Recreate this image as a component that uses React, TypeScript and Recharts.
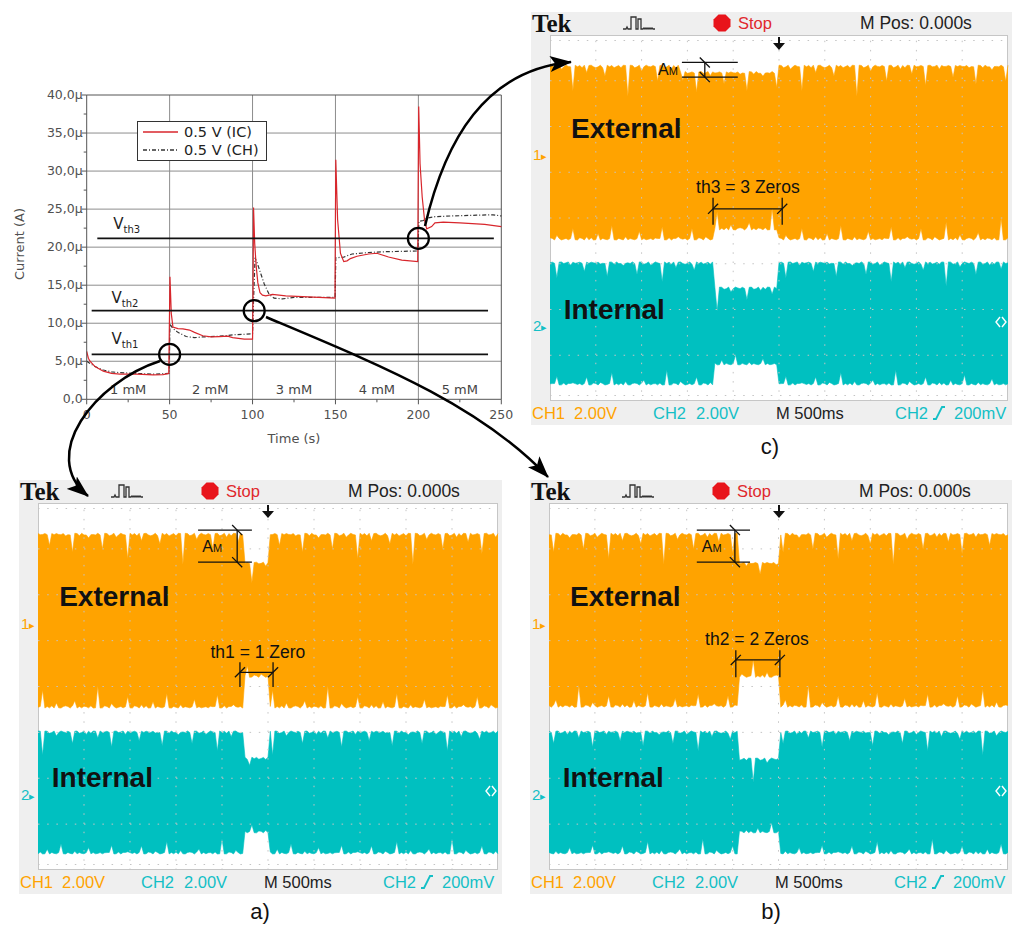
import React from "react";
import {
  LineChart, Line, ComposedChart, Area, XAxis, YAxis, ReferenceLine, ReferenceDot, Legend, Label,
} from "recharts";

const W = 1024;
const H = 945;
const SANS = "'Liberation Sans', Arial, Helvetica, sans-serif";
const PLOT_FONT = "'DejaVu Sans', Verdana, sans-serif";
const ORANGE = "#ffa300";
const CYAN = "#00c0c0";
const CYAN_TEXT = "#14bfc6";
const RED = "#d8262c";

// ---------- current vs time (s, µA) ----------
const icTime = [0, 1, 2, 5, 10, 15, 20, 30, 40, 46, 49.5, 50.2, 51, 52, 55, 58, 62, 65, 70, 75, 80, 85, 88, 95, 100, 100.3, 100.6, 101.3, 102.2, 103.2, 104.5, 106, 108, 112, 120, 130, 140, 149.7, 150.2, 151.3, 153, 155, 157, 159, 163, 170, 175, 182, 190, 199.6, 200.2, 201, 202.3, 203.7, 205, 208, 210, 215, 225, 240, 250];
const icCurrent = [6.3, 5.4, 5.0, 4.3, 3.7, 3.4, 3.3, 3.3, 3.2, 3.25, 3.4, 16.1, 11.3, 9.5, 9.3, 9.25, 9.1, 8.8, 8.35, 8.2, 8.25, 8.3, 8.1, 7.9, 7.9, 14, 25.2, 20.5, 17.5, 15.3, 14, 13.7, 13.6, 13.8, 13.6, 13.5, 13.4, 13.3, 31.5, 23.6, 19.2, 18.1, 18.2, 18.5, 18.8, 19.1, 19.2, 18.7, 18.3, 18.1, 38.5, 31, 26.6, 23.6, 22.4, 22.7, 23.2, 23.3, 23.2, 23.0, 22.7];
const chTime = [0, 5, 10, 15, 20, 30, 40, 49.7, 50.2, 52, 55, 60, 65, 70, 80, 90, 100, 100.6, 101.5, 103, 105, 107, 110, 113, 118, 125, 140, 149.8, 150.2, 155, 160, 170, 180, 190, 199.7, 200.3, 203, 205, 210, 220, 235, 245, 250];
const chCurrent = [5.0, 4.3, 3.85, 3.6, 3.5, 3.4, 3.3, 3.4, 9.9, 9.3, 8.8, 8.25, 8.1, 8.2, 8.3, 8.5, 8.6, 13, 18.6, 17.8, 16.5, 15.2, 13.8, 13.3, 13.2, 13.4, 13.4, 13.4, 18.6, 18.7, 19.1, 19.3, 19.4, 19.45, 19.5, 23.4, 23.5, 23.8, 24.0, 24.1, 24.2, 24.25, 24.1];

const timeTicks = [0, 25, 50, 75, 100, 125, 150, 175, 200, 225, 250];
const currentTicks = [0, 2.5, 5, 7.5, 10, 12.5, 15, 17.5, 20, 22.5, 25, 27.5, 30, 32.5, 35, 37.5, 40];
const gridTime = [50, 100, 150, 200];
const gridCurrent = [5, 10, 15, 20, 25, 30, 35];

const thresholdLevel = [5.9, 11.65, 21.15];
const thresholdStart = [3, 3, 6.4];
const thresholdEnd = [242, 242, 245.5];
const thresholdName = ["th1", "th2", "th3"];
const thresholdLabelTime = [15, 15, 16];
const thresholdLabelCurrent = [7.3, 12.7, 22.4];
const crossingTime = [50, 101, 200];

const concentrationLabel = ["1 mM", "2 mM", "3 mM", "4 mM", "5 mM"];
const concentrationTime = [25, 74.5, 125, 175, 225];
const concentrationCurrent = 1.3;

const legendName = ["0.5 V (IC)", "0.5 V (CH)"];

// ---------- oscilloscope traces (divisions: x 0..10, y 0..8) ----------
const spikeDepth = [
  1, 0, 2, 1, 0, 6, 1, 0, 1, 2, 0, 1, 3, 0, 1, 8, 0, 1, 2, 0,
  1, 1, 4, 0, 2, 1, 0, 1, 7, 0, 1, 2, 1, 0, 3, 1, 0, 2, 1, 9,
  0, 1, 1, 2, 0, 5, 1, 0, 1, 2, 1, 0, 2, 6, 0, 1, 1, 3, 0, 1,
  2, 0, 1, 10, 0, 1, 2, 1, 0, 4, 1, 0, 2, 1, 1, 0, 7, 1, 0, 2,
  1, 0, 3, 1, 2, 0, 1, 5, 0, 1, 2, 1, 0, 8, 1, 0, 1, 2, 0, 3,
];
// deepest spike (div) on each band edge: ext top, ext bottom, int top, int bottom
const spikeMax = [0.65, 0.45, 0.5, 0.3];
const scopeDivX = [1, 2, 3, 4, 5, 6, 7, 8, 9];
const scopeDivY = [1, 2, 3, 4, 5, 6, 7];

// [top, bottom] of each channel band, normal and inside the missing-pulse gap
const gapA = [4.5, 5.0];
const extA = [7.34, 3.53];
const extGapA = [6.71, 4.2];
const intA = [3.03, 0.35];
const intGapA = [2.46, 0.81];

const gapB = [4.12, 5.0];
const extB = [7.34, 3.55];
const extGapB = [6.71, 4.2];
const intB = [3.03, 0.35];
const intGapB = [2.44, 0.81];

const gapC = [3.56, 4.98];
const dipC = [2.85, 4.98];
const extC = [7.34, 3.52];
const extGapC = [7.2, 3.74];
const intC = [3.04, 0.35];
const intGapC = [2.49, 0.79];

function buildRows(gap: number[], dip: number[], ext: number[], extGap: number[], int: number[], intGap: number[], shift: number) {
  const n = spikeDepth.length;
  const rows: any[] = [];
  for (let i = 0; i <= 200; i++) {
    const x = i / 20;
    const inGap = x >= gap[0] && x <= gap[1];
    const inDip = x >= dip[0] && x <= dip[1];
    const d = (o: number, e: number) => {
      const s = spikeDepth[(i + o + shift) % n] / 10;
      return s * s * spikeMax[e] + (spikeDepth[(i + o + shift + 7) % n] % 2) * 0.03;
    };
    const eTop = (inDip ? extGap[0] : ext[0]) - d(0, 0);
    const eBot = (inGap ? extGap[1] : ext[1]) + d(37, 1);
    const iTop = (inGap ? intGap[0] : int[0]) - d(61, 2);
    const iBot = (inGap ? intGap[1] : int[1]) + d(83, 3);
    rows.push({ x, ext: [eBot, eTop], int: [iBot, iTop] });
  }
  return rows;
}

// ---------- main current chart ----------
const PL = 86.7;
const PT = 95;
const PR = 501.3;
const PB = 399.3;

const fmtCurrent = (v: number) => (v === 0 ? "0,0" : v.toFixed(1).replace(".", ",") + "µ");

function CurrentTick(props: any) {
  const { y, payload } = props;
  const major = payload.value % 5 === 0;
  return (
    <g>
      <line x1={PL - (major ? 5 : 3)} x2={PL} y1={y} y2={y} stroke="#555" />
      {major && (
        <text x={PL - 4} y={y + 4} textAnchor="end" fontSize={12.5} fill="#505050" fontFamily={PLOT_FONT}>
          {fmtCurrent(payload.value)}
        </text>
      )}
    </g>
  );
}

function TimeTick(props: any) {
  const { x, payload } = props;
  const major = payload.value % 50 === 0;
  return (
    <g>
      <line x1={x} x2={x} y1={PB} y2={PB + (major ? 5 : 3)} stroke="#555" />
      {major && (
        <text x={x} y={PB + 20} textAnchor="middle" fontSize={12.5} fill="#505050" fontFamily={PLOT_FONT}>
          {payload.value}
        </text>
      )}
    </g>
  );
}

function LegendBox() {
  return (
    <div style={{ width: 130, height: 40, boxSizing: "border-box", border: "1.5px solid #333", background: "#fff", fontFamily: PLOT_FONT, fontSize: 14.5, color: "#222", padding: "1px 0 0 5px" }}>
      {legendName.map((name, i) => (
        <div key={name} style={{ display: "flex", alignItems: "center", height: 18 }}>
          <svg width={36} height={10} style={{ marginRight: 5 }}>
            <line x1={0} x2={35} y1={5} y2={5} stroke={i === 0 ? RED : "#333"} strokeWidth={1.3} strokeDasharray={i === 0 ? undefined : "4 2 1 2"} />
          </svg>
          <span>{name}</span>
        </div>
      ))}
    </div>
  );
}

function CurrentChart() {
  const ic = icTime.map((t, i) => ({ t, i: icCurrent[i] }));
  const ch = chTime.map((t, i) => ({ t, i: chCurrent[i] }));
  return (
    <div style={{ position: "absolute", left: 0, top: 0 }}>
      <LineChart width={W} height={H} margin={{ top: PT, left: PL - 60, right: W - PR, bottom: H - PB - 45 }}>
        <XAxis type="number" dataKey="t" domain={[0, 250]} ticks={timeTicks} interval={0} tick={<TimeTick />} tickLine={false} axisLine={{ stroke: "#555" }} height={45}>
          <Label content={() => <text x={294} y={443} textAnchor="middle" fontSize={13} fill="#505050" fontFamily={PLOT_FONT}>Time (s)</text>} />
        </XAxis>
        <YAxis type="number" domain={[0, 40]} ticks={currentTicks} interval={0} tick={<CurrentTick />} tickLine={false} axisLine={{ stroke: "#555" }} width={60}>
          <Label content={() => <text transform="translate(24 244) rotate(-90)" textAnchor="middle" fontSize={13} fill="#505050" fontFamily={PLOT_FONT}>Current (A)</text>} />
        </YAxis>
        {gridCurrent.map((v) => <ReferenceLine key={"h" + v} y={v} stroke="#8d8d8d" />)}
        {gridTime.map((v) => <ReferenceLine key={"v" + v} x={v} stroke="#8d8d8d" />)}
        <ReferenceLine y={40} stroke="#555" />
        <ReferenceLine x={250} stroke="#555" />
        <Line data={ch} dataKey="i" type="linear" stroke="#333" strokeWidth={1.2} strokeDasharray="4 2 1 2" dot={false} activeDot={false} isAnimationActive={false} />
        <Line data={ic} dataKey="i" type="linear" stroke={RED} strokeWidth={1.2} dot={false} activeDot={false} isAnimationActive={false} />
        {thresholdLevel.map((v, i) => (
          <ReferenceLine key={"th" + i} segment={[{ x: thresholdStart[i], y: v }, { x: thresholdEnd[i], y: v }]} stroke="#111" strokeWidth={1.6} />
        ))}
        {thresholdLevel.map((v, i) => (
          <ReferenceDot key={"thl" + i} x={thresholdLabelTime[i]} y={thresholdLabelCurrent[i]} shape={(p: any) => (
            <text x={p.cx} y={p.cy} fontSize={15} fill="#222" fontFamily={PLOT_FONT}>
              V<tspan fontSize={10} dy={4}>{thresholdName[i]}</tspan>
            </text>
          )} />
        ))}
        {concentrationLabel.map((s, i) => (
          <ReferenceDot key={s} x={concentrationTime[i]} y={concentrationCurrent} shape={(p: any) => (
            <text x={p.cx} y={p.cy + 4.5} textAnchor="middle" fontSize={13} fill="#444" fontFamily={PLOT_FONT}>{s}</text>
          )} />
        ))}
        {crossingTime.map((t, i) => (
          <ReferenceDot key={"c" + t} x={t} y={thresholdLevel[i]} r={10.5} fill="none" stroke="#000" strokeWidth={2.2} />
        ))}
        <Legend layout="vertical" align="center" verticalAlign="middle" content={<LegendBox />} wrapperStyle={{ left: 137, top: 121, width: 130, height: 40 }} />
      </LineChart>
    </div>
  );
}

// ---------- oscilloscope panel ----------
type Annot = {
  amX: number[]; amY: number[]; amV: number; amText: number[];
  thX: number[]; thY: number; thV: number[]; thText: number[]; thLabel: string;
};

function Span({ x, cy, size, color, children, weight, family, anchor }: any) {
  const lh = Math.round(size * 1.25);
  return (
    <div style={{
      position: "absolute", left: anchor === "middle" ? x - 100 : x, width: anchor === "middle" ? 200 : undefined,
      textAlign: anchor === "middle" ? "center" : "left", top: cy - lh / 2, height: lh, lineHeight: lh + "px",
      fontSize: size, color, fontWeight: weight || "normal", fontFamily: family || SANS, whiteSpace: "nowrap",
    }}>{children}</div>
  );
}

function ScopePanel({ sx, st, sr, sb, rows, a, caption, capX, capY }: any) {
  const divH = (sb - st) / 8;
  const levelY = (d: number) => sb - d * divH;
  const hy = st - 12;
  const fy = sb + 12;
  const an: Annot = a;
  const slash = (x: number, y: number, dir: number, k: string) => (
    <ReferenceLine key={k} segment={[{ x: x - 0.11, y: y - 0.11 * dir }, { x: x + 0.11, y: y + 0.11 * dir }]} stroke="#111" strokeWidth={1.3} ifOverflow="visible" />
  );
  return (
    <>
      <div style={{ position: "absolute", left: sx - 19, top: st - 23, width: sr - sx + 23, height: sb - st + 47, background: "#efefef" }} />
      <div style={{ position: "absolute", left: sx, top: st, width: sr - sx, height: sb - st, background: "#fff", boxSizing: "border-box", border: "1px solid #c6c6c6" }} />
      <Span x={sx - 18} cy={hy} size={25} color="#111" weight="bold" family="'Liberation Serif', 'Times New Roman', serif">Tek</Span>
      <svg width={34} height={18} style={{ position: "absolute", left: sx + 73, top: hy - 9 }}>
        <path d="M0 15 L3 15 L4 13 L5 15 L8 15 L8 3 L13 3 L13 15 L15 15 L15 5 L18 5 L18 15 L20 15 L21 14 L22 15 L23 14 L24 15 L25 14 L26 15 L27 14 L28 15 L29 14 L30 15 L32 15" fill="none" stroke="#333" strokeWidth={1.3} />
      </svg>
      <svg width={18} height={18} style={{ position: "absolute", left: sx + 163, top: hy - 9 }}>
        <polygon points="5.5,0.5 12.5,0.5 17.5,5.5 17.5,12.5 12.5,17.5 5.5,17.5 0.5,12.5 0.5,5.5" fill="#e8141b" />
      </svg>
      <Span x={sx + 188} cy={hy} size={16.5} color="#e0282c">Stop</Span>
      <Span x={sx + 310} cy={hy} size={17.5} color="#222">M Pos: 0.000s</Span>
      <Span x={sx - 18} cy={fy} size={16.5} color={ORANGE}>CH1</Span>
      <Span x={sx + 24} cy={fy} size={16.5} color={ORANGE}>2.00V</Span>
      <Span x={sx + 103} cy={fy} size={16.5} color={CYAN_TEXT}>CH2</Span>
      <Span x={sx + 146} cy={fy} size={16.5} color={CYAN_TEXT}>2.00V</Span>
      <Span x={sx + 226} cy={fy} size={16.5} color="#222">M 500ms</Span>
      <Span x={sx + 345} cy={fy} size={16.5} color={CYAN_TEXT}>CH2</Span>
      <svg width={14} height={16} style={{ position: "absolute", left: sx + 382, top: fy - 8 }}>
        <path d="M1 14 L4 14 L10 2 L13 2" fill="none" stroke={CYAN_TEXT} strokeWidth={1.8} />
      </svg>
      <Span x={sx + 404} cy={fy} size={16.5} color={CYAN_TEXT}>200mV</Span>
      <Span x={sx - 17} cy={levelY(5.38)} size={15} color={ORANGE}>1<span style={{ fontSize: 11 }}>▸</span></Span>
      <Span x={sx - 17} cy={levelY(1.65)} size={15} color={CYAN_TEXT}>2<span style={{ fontSize: 11 }}>▸</span></Span>
      <Span x={capX} cy={capY} size={22} color="#111" anchor="middle">{caption}</Span>
      <div style={{ position: "absolute", left: 0, top: 0 }}>
        <ComposedChart width={W} height={H} data={rows} margin={{ left: sx, top: st, right: W - sr, bottom: H - sb }}>
          <XAxis type="number" dataKey="x" domain={[0, 10]} hide />
          <YAxis type="number" domain={[0, 8]} hide />
          <Area dataKey="ext" type="linear" stroke={ORANGE} strokeWidth={0.6} fill={ORANGE} fillOpacity={1} dot={false} activeDot={false} isAnimationActive={false} />
          <Area dataKey="int" type="linear" stroke={CYAN} strokeWidth={0.6} fill={CYAN} fillOpacity={1} dot={false} activeDot={false} isAnimationActive={false} />
          {scopeDivX.map((v) => <ReferenceLine key={"gx" + v} x={v} stroke="#c4c4c4" strokeDasharray="1.5 7.7" />)}
          {scopeDivY.map((v) => <ReferenceLine key={"gy" + v} y={v} stroke="#c4c4c4" strokeDasharray="1.5 7.7" />)}
          <ReferenceLine y={7.88} stroke="#c4c4c4" strokeDasharray="1.5 7.7" />
          <ReferenceLine y={0.12} stroke="#c4c4c4" strokeDasharray="1.5 7.7" />
          <ReferenceDot x={0.46} y={5.75} shape={(p: any) => <text x={p.cx} y={p.cy} fontSize={28} fontWeight="bold" fill="#111" fontFamily={SANS}>External</text>} />
          <ReferenceDot x={0.3} y={1.8} shape={(p: any) => <text x={p.cx} y={p.cy} fontSize={28} fontWeight="bold" fill="#111" fontFamily={SANS}>Internal</text>} />
          <ReferenceLine segment={[{ x: an.amX[0], y: an.amY[0] }, { x: an.amX[1], y: an.amY[0] }]} stroke="#111" strokeWidth={1.3} />
          <ReferenceLine segment={[{ x: an.amX[0], y: an.amY[1] }, { x: an.amX[1], y: an.amY[1] }]} stroke="#111" strokeWidth={1.3} />
          <ReferenceLine segment={[{ x: an.amV, y: an.amY[0] }, { x: an.amV, y: an.amY[1] }]} stroke="#111" strokeWidth={1.3} />
          {slash(an.amV, an.amY[0], -1, "s1")}
          {slash(an.amV, an.amY[1], -1, "s2")}
          <ReferenceDot x={an.amText[0]} y={an.amText[1]} shape={(p: any) => (
            <text x={p.cx} y={p.cy} fontSize={16} fill="#111" fontFamily={SANS}>A<tspan fontSize={11}>M</tspan></text>
          )} />
          <ReferenceLine segment={[{ x: an.thX[0], y: an.thY }, { x: an.thX[1], y: an.thY }]} stroke="#111" strokeWidth={1.3} />
          <ReferenceLine segment={[{ x: an.thX[0], y: an.thV[0] }, { x: an.thX[0], y: an.thV[1] }]} stroke="#111" strokeWidth={1.3} />
          <ReferenceLine segment={[{ x: an.thX[1], y: an.thV[0] }, { x: an.thX[1], y: an.thV[1] }]} stroke="#111" strokeWidth={1.3} />
          {slash(an.thX[0], an.thY, 1, "s3")}
          {slash(an.thX[1], an.thY, 1, "s4")}
          <ReferenceDot x={an.thText[0]} y={an.thText[1]} shape={(p: any) => (
            <text x={p.cx} y={p.cy} textAnchor="middle" fontSize={17.5} fill="#111" fontFamily={SANS}>{an.thLabel}</text>
          )} />
        </ComposedChart>
      </div>
      <svg width={14} height={14} style={{ position: "absolute", left: sx + (sr - sx) / 2 - 7, top: st + 2 }}>
        <path d="M7 0 L7 7" stroke="#111" strokeWidth={2} />
        <polygon points="1,6 13,6 7,13" fill="#111" />
      </svg>
      <svg width={12} height={12} style={{ position: "absolute", left: sr - 13, top: levelY(1.72) - 6 }}>
        <path d="M5 1 L1 6 L5 11 M7 1 L11 6 L7 11" fill="none" stroke="#fff" strokeWidth={1.4} />
      </svg>
    </>
  );
}

const annotA: Annot = { amX: [3.48, 4.65], amY: [7.41, 6.71], amV: 4.33, amText: [3.57, 6.93], thX: [4.39, 5.11], thY: 4.31, thV: [4.53, 3.99], thText: [4.78, 4.62], thLabel: "th1 = 1 Zero" };
const annotB: Annot = { amX: [3.22, 4.38], amY: [7.41, 6.71], amV: 4.05, amText: [3.33, 6.93], thX: [4.07, 5.03], thY: 4.58, thV: [4.79, 4.2], thText: [4.53, 4.9], thLabel: "th2 = 2 Zeros" };
const annotC: Annot = { amX: [2.88, 4.1], amY: [7.4, 7.08], amV: 3.38, amText: [2.36, 7.13], thX: [3.56, 5.07], thY: 4.2, thV: [4.44, 3.85], thText: [4.32, 4.55], thLabel: "th3 = 3 Zeros" };

export default function App() {
  const rowsA = buildRows(gapA, gapA, extA, extGapA, intA, intGapA, 0);
  const rowsB = buildRows(gapB, gapB, extB, extGapB, intB, intGapB, 13);
  const rowsC = buildRows(gapC, dipC, extC, extGapC, intC, intGapC, 29);
  return (
    <div style={{ position: "relative", width: W, height: H, background: "#fff", overflow: "hidden" }}>
      <style>{"body{margin:0}"}</style>
      <ScopePanel sx={38} st={503} sr={498} sb={870} rows={rowsA} a={annotA} caption="a)" capX={260} capY={912} />
      <ScopePanel sx={549} st={503} sr={1008} sb={870} rows={rowsB} a={annotB} caption="b)" capX={771} capY={912} />
      <ScopePanel sx={550} st={35} sr={1008} sb={401} rows={rowsC} a={annotC} caption="c)" capX={770} capY={447} />
      <CurrentChart />
      <svg width={W} height={H} style={{ position: "absolute", left: 0, top: 0, pointerEvents: "none" }}>
        <defs>
          <marker id="head" markerWidth={22} markerHeight={16} refX={21} refY={8} orient="auto" markerUnits="userSpaceOnUse">
            <path d="M0,0 L22,8 L0,16 L5,8 Z" fill="#000" />
          </marker>
        </defs>
        <path d="M 160 361 C 95 382, 38 455, 88 496" fill="none" stroke="#000" strokeWidth={2.5} markerEnd="url(#head)" />
        <path d="M 266 317 C 380 365, 480 405, 548 477" fill="none" stroke="#000" strokeWidth={2.5} markerEnd="url(#head)" />
        <path d="M 425 226 C 445 140, 485 70, 571 62" fill="none" stroke="#000" strokeWidth={2.5} markerEnd="url(#head)" />
      </svg>
    </div>
  );
}
